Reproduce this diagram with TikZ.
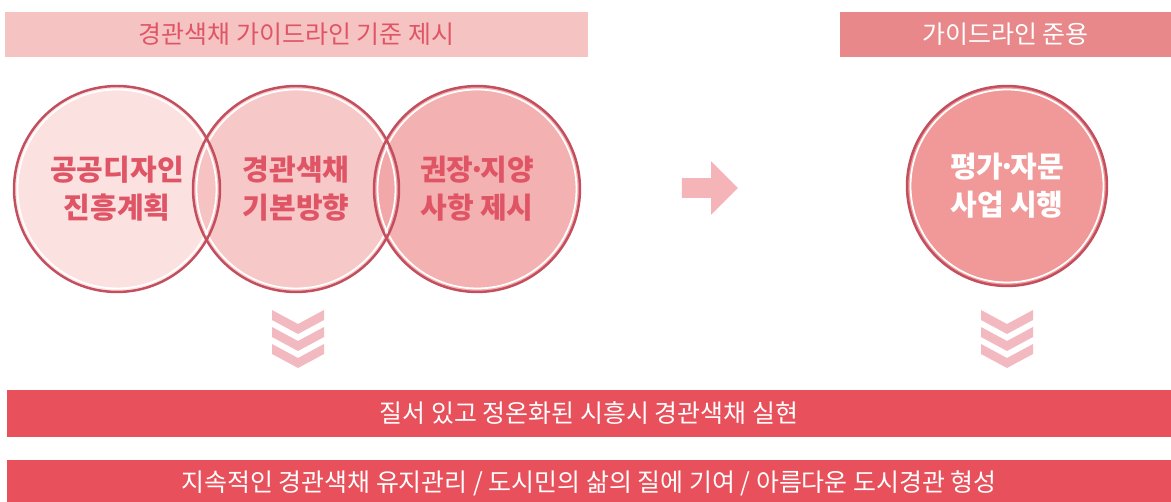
\documentclass[tikz,border=0pt]{standalone}
\usepackage{fontspec}
\setmainfont{Noto Sans CJK KR}
\usetikzlibrary{shapes.arrows}

\definecolor{softpink}{HTML}{F6C3C3}
\definecolor{midpink}{HTML}{E8888A}
\definecolor{deepred}{HTML}{E8505B}
\definecolor{labelred}{HTML}{E05566}
\definecolor{rimred}{HTML}{C24E5E}
\definecolor{pinkA}{HTML}{FBDCDC}
\definecolor{pinkB}{HTML}{F6BEBE}
\definecolor{pinkC}{HTML}{F2A3A3}
\definecolor{pinkD}{HTML}{EE8686}
\definecolor{chevpink}{HTML}{F2B9C0}
\definecolor{arrowpink}{HTML}{F5B5B8}

\newcommand{\middot}{\kern-0.18em·\kern-0.18em}

\begin{document}
\begin{tikzpicture}[x=0.02cm,y=-0.02cm,
  bar/.style={rectangle,inner sep=0pt,font=\fontsize{14.2}{17}\selectfont},
  spot/.style={circle,minimum size=4.12cm,inner sep=0pt,align=center,fill opacity=0.85,text opacity=1,font=\bfseries\fontsize{16.5}{21.6}\selectfont},
  rim/.style={draw=rimred,line width=1.4pt},
  ring/.style={draw=white,line width=1pt},
  chev/.style={fill=chevpink}]

\useasboundingbox (0,0) rectangle (1171,502);

% ---- Header bars ----
\node[bar,fill=softpink,text=labelred,minimum width=11.66cm,minimum height=0.9cm] (headL) at (296.5,34.5) {경관색채 가이드라인 기준 제시};
\node[bar,fill=midpink,text=white,minimum width=6.62cm,minimum height=0.9cm] (headR) at (1005.5,34.5) {가이드라인 준용};

% ---- Circles ----
\node[spot,fill=pinkA,text=labelred] (plan) at (117,189) {공공디자인\\진흥계획};
\node[spot,fill=pinkB,text=labelred] (base) at (296,189) {경관색채\\기본방향};
\node[spot,fill=pinkC,text=labelred] (rule) at (477,189) {권장\middot 지양\\사항 제시};
\node[spot,fill=pinkD,text=white,minimum size=4.0cm] (apply) at (1007,186) {평가\middot 자문\\사업 시행};

% outlines on top
\foreach \c in {plan,base,rule} \draw[ring] (\c.center) circle (1.99cm);
\draw[ring] (apply.center) circle (1.93cm);
\foreach \c in {plan,base,rule} \draw[rim] (\c.center) circle (2.06cm);
\draw[rim] (apply.center) circle (2.0cm);

% ---- Arrow ----
\node[single arrow,fill=arrowpink,inner xsep=0pt,inner ysep=0.19cm,single arrow head extend=0.34cm,minimum height=1.12cm] (go) at (705,188) {};

% ---- Chevrons ----
\foreach \cx in {298,1007}
  \foreach \k in {0,1,2}
    \fill[chev,shift={(\cx,{310+17*\k})}] (-26,0) -- (0,14) -- (26,0) -- (26,10) -- (0,24) -- (-26,10) -- cycle;

% ---- Result bars ----
\node[bar,fill=deepred,text=white,minimum width=23.28cm,minimum height=0.94cm] (goal) at (589,413.5) {질서 있고 정온화된 시흥시 경관색채 실현};
\node[bar,fill=deepred,text=white,minimum width=23.28cm,minimum height=0.92cm] (vision) at (589,483) {지속적인 경관색채 유지관리 / 도시민의 삶의 질에 기여 / 아름다운 도시경관 형성};

\end{tikzpicture}
\end{document}
